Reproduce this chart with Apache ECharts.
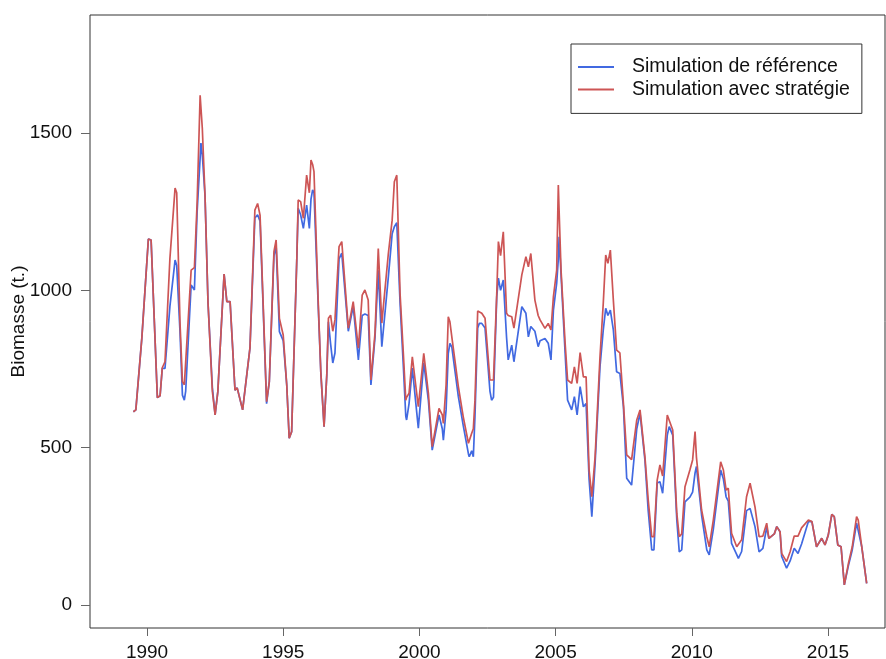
<!DOCTYPE html>
<html>
<head>
<meta charset="utf-8">
<script src="https://cdn.jsdelivr.net/npm/echarts@6/dist/echarts.min.js"></script>
<style>
html,body{margin:0;padding:0;background:#fff;}
#chart{width:886px;height:659px;}
</style>
</head>
<body>
<div id="chart"></div>
<script>
var years = [
1989.50,1989.59,1989.81,1990.05,1990.15,1990.38,1990.48,1990.56,1990.66,1990.84,
1991.03,1991.09,1991.21,1991.30,1991.37,1991.42,1991.62,1991.74,1991.84,1991.95,
1991.98,1992.03,1992.13,1992.24,1992.40,1992.50,1992.60,1992.83,1992.93,1993.05,
1993.23,1993.31,1993.51,1993.78,1993.96,1994.06,1994.15,1994.39,1994.49,1994.66,
1994.74,1994.86,1995.00,1995.13,1995.22,1995.31,1995.50,1995.55,1995.64,1995.74,
1995.86,1995.96,1996.02,1996.08,1996.13,1996.29,1996.38,1996.50,1996.60,1996.66,
1996.74,1996.82,1996.90,1997.05,1997.15,1997.39,1997.57,1997.76,1997.90,1998.00,
1998.12,1998.22,1998.37,1998.49,1998.62,1998.86,1999.00,1999.08,1999.17,1999.29,
1999.41,1999.50,1999.53,1999.62,1999.74,1999.96,2000.16,2000.33,2000.47,2000.72,
2000.84,2000.88,2000.98,2001.06,2001.12,2001.19,2001.43,2001.61,2001.80,2001.83,
2001.92,2001.98,2002.04,2002.14,2002.20,2002.29,2002.41,2002.59,2002.65,2002.72,
2002.84,2002.90,2002.98,2003.08,2003.20,2003.26,2003.39,2003.47,2003.76,2003.91,
2004.00,2004.09,2004.24,2004.36,2004.43,2004.61,2004.73,2004.83,2004.92,2005.04,
2005.10,2005.13,2005.20,2005.35,2005.44,2005.59,2005.69,2005.79,2005.90,2006.02,
2006.12,2006.23,2006.33,2006.45,2006.63,2006.75,2006.84,2006.92,2007.01,2007.12,
2007.24,2007.36,2007.49,2007.61,2007.79,2007.98,2008.10,2008.28,2008.40,2008.53,
2008.61,2008.73,2008.83,2008.93,2009.10,2009.17,2009.30,2009.45,2009.54,2009.63,
2009.75,2009.93,2010.03,2010.12,2010.17,2010.36,2010.55,2010.64,2010.79,2011.06,
2011.16,2011.26,2011.34,2011.46,2011.65,2011.71,2011.83,2012.01,2012.14,2012.32,
2012.47,2012.61,2012.75,2012.83,2013.03,2013.12,2013.24,2013.30,2013.48,2013.61,
2013.76,2013.90,2014.03,2014.28,2014.41,2014.58,2014.77,2014.89,2015.01,2015.14,
2015.23,2015.36,2015.48,2015.60,2015.75,2015.89,2016.05,2016.11,2016.24,2016.42
];

var strategyValues = [
614,620,848,1163,1160,659,665,754,773,1100,
1325,1310,900,710,700,694,1064,1072,1280,1620,
1580,1515,1300,960,678,604,678,1052,964,964,
683,690,620,817,1255,1276,1239,646,710,1123,
1160,911,858,699,530,551,1102,1287,1282,1229,
1366,1310,1414,1400,1377,953,741,567,731,911,
921,870,906,1139,1155,880,964,816,985,1001,
969,715,864,1133,896,1117,1223,1345,1366,990,
800,651,660,673,789,630,800,673,503,625,
604,577,700,916,900,852,694,598,514,520,
546,560,651,934,930,927,911,715,715,715,
990,1155,1110,1186,927,920,916,880,1049,1107,
1075,1117,969,920,906,879,895,874,980,1064,
1335,1250,1064,832,715,704,757,704,802,725,
725,429,344,471,789,959,1112,1086,1128,969,
810,801,641,477,462,588,620,471,334,217,
217,397,445,410,604,598,556,291,217,226,
376,429,461,551,470,302,217,185,270,455,
429,365,371,228,185,190,207,344,387,312,
217,219,260,212,226,249,233,164,138,169,
219,219,245,270,265,185,212,191,222,288,
281,191,185,64,132,185,281,270,185,69
];

var referenceValues = [
614,620,848,1163,1160,659,665,752,752,948,
1096,1080,870,667,651,680,1017,1001,1250,1420,
1468,1430,1300,960,690,604,678,1052,964,964,
683,690,620,817,1230,1240,1220,640,710,1110,
1140,869,840,699,530,551,1102,1261,1240,1197,
1271,1197,1290,1319,1310,940,741,567,731,900,
830,769,801,1100,1118,870,950,779,920,925,
920,699,850,1064,821,1043,1180,1202,1215,960,
760,600,588,640,753,562,770,650,492,604,
560,524,620,800,831,820,662,570,480,471,
490,471,600,880,895,895,880,680,651,660,
980,1039,1000,1033,850,779,826,773,948,927,
852,885,870,821,840,847,832,779,937,1023,
1100,1170,1050,800,651,620,662,604,694,630,
640,400,281,450,757,874,943,920,937,874,
741,736,630,403,381,560,610,460,300,175,
175,388,392,355,540,567,540,270,169,175,
328,343,359,420,440,286,175,159,240,429,
400,344,330,196,160,148,170,300,307,249,
169,180,247,212,226,249,233,154,117,140,
180,164,194,265,265,185,212,191,222,288,
281,191,185,64,125,175,260,265,185,69
];

var seriesNames = ['Simulation de référence', 'Simulation avec stratégie'];
var xTicks = [1990, 1995, 2000, 2005, 2010, 2015];
var yTicks = [0, 500, 1000, 1500];
var yTitle = 'Biomasse (t.)';

function pairs(xs, ys) {
  var out = [];
  for (var i = 0; i < xs.length; i++) out.push([xs[i], ys[i]]);
  return out;
}
function plain(v) { return String(v); }

var FONT = '"Liberation Sans", Arial, sans-serif';
var chart = echarts.init(document.getElementById('chart'), null, {renderer: 'canvas'});
chart.setOption({
  animation: false,
  backgroundColor: '#ffffff',
  grid: {
    left: 90, top: 15, right: 1, bottom: 31,
    containLabel: false,
    outerBoundsMode: 'none',
    show: true, borderColor: '#333333', borderWidth: 1, backgroundColor: 'transparent'
  },
  legend: {
    left: 571, top: 44,
    orient: 'vertical',
    data: seriesNames,
    icon: 'rect',
    borderColor: '#333333', borderWidth: 1,
    padding: [13, 12, 14, 7],
    itemGap: 2.4,
    itemWidth: 36, itemHeight: 2,
    textStyle: {fontFamily: FONT, fontSize: 19.5, color: '#111', lineHeight: 20, padding: [0, 0, 0, 13]}
  },
  xAxis: {
    type: 'value',
    position: 'bottom',
    min: 1987.907, max: 2017.093,
    axisLine: {show: false, onZero: false},
    splitLine: {show: false},
    axisTick: {show: true, length: 8, customValues: xTicks, lineStyle: {color: '#666', width: 1}},
    axisLabel: {customValues: xTicks, formatter: plain, margin: 15, fontFamily: FONT, fontSize: 19, color: '#111'}
  },
  yAxis: {
    type: 'value',
    position: 'left',
    min: -73.1, max: 1875,
    axisLine: {show: false, onZero: false},
    splitLine: {show: false},
    axisTick: {show: true, length: 9, customValues: yTicks, lineStyle: {color: '#666', width: 1}},
    axisLabel: {customValues: yTicks, formatter: plain, margin: 18, fontFamily: FONT, fontSize: 19, color: '#111'},
    name: yTitle,
    nameLocation: 'middle',
    nameGap: 62,
    nameMoveOverlap: false,
    nameTextStyle: {fontFamily: FONT, fontSize: 19, color: '#111'}
  },
  series: [
    {
      name: seriesNames[0], type: 'line', symbol: 'none', z: 2,
      lineStyle: {color: '#4169E1', width: 1.7},
      itemStyle: {color: '#4169E1'},
      data: pairs(years, referenceValues)
    },
    {
      name: seriesNames[1], type: 'line', symbol: 'none', z: 3,
      lineStyle: {color: '#CD5555', width: 1.7},
      itemStyle: {color: '#CD5555'},
      data: pairs(years, strategyValues)
    }
  ]
});
</script>
</body>
</html>
